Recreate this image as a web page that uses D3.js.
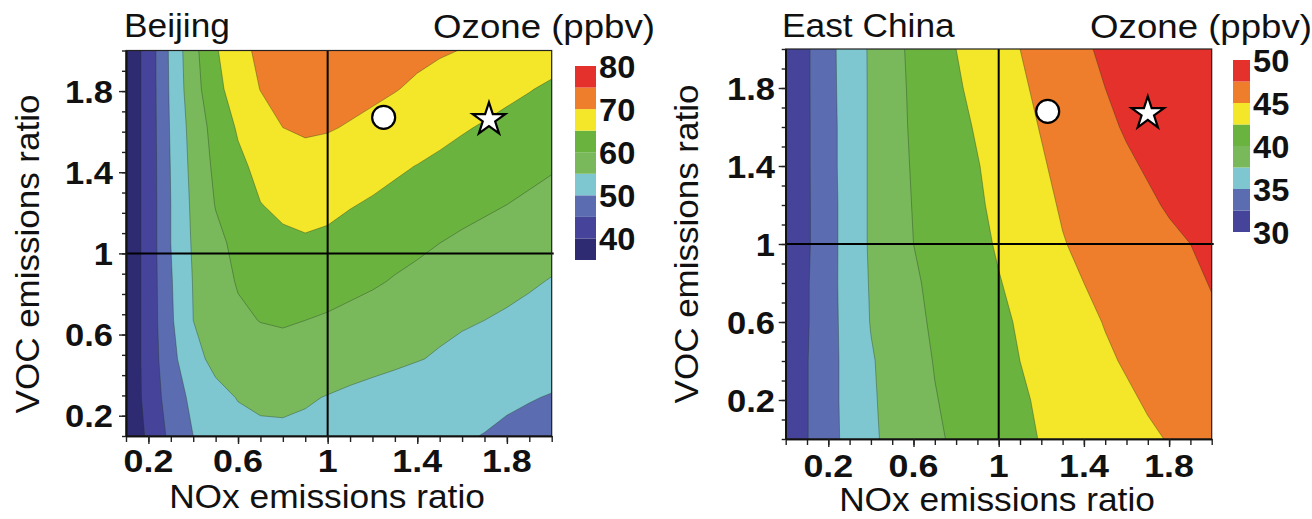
<!DOCTYPE html>
<html>
<head>
<meta charset="utf-8">
<script src="https://cdn.jsdelivr.net/npm/d3@7"></script>
<style>
body { margin: 0; background: #fff; }
text { font-family: "Liberation Sans", Arial, sans-serif; fill: #111; }
</style>
</head>
<body>
<svg id="chart" width="1312" height="519"></svg>
<script>
// ---- Beijing ----
var noxBJ = [0.1, 0.2, 0.3, 0.4, 0.5, 0.6, 0.7, 0.8, 0.9, 1.0, 1.1, 1.2, 1.3, 1.4, 1.5, 1.6, 1.7, 1.8, 1.9, 2.0];
var vocBJ = [0.1, 0.29, 0.48, 0.67, 0.86, 1.05, 1.24, 1.43, 1.62, 1.81, 2.0];
// one row per VOC value (bottom to top), one column per NOx value
var ozoneBJ = [
	[36, 40.8, 46.2, 50, 52.2, 53.4, 54, 54.1, 53.8, 53.3, 52.8, 52.3, 51.8, 51.3, 50.8, 50.3, 49.9, 49.3, 48.8, 48.3],
	[36, 41.8, 47.3, 51.2, 53.6, 55.2, 55.9, 56, 55.5, 54.8, 54.1, 53.5, 53, 52.5, 52, 51.5, 51, 50.6, 50.2, 49.8],
	[36, 42, 48.5, 53.5, 56.3, 57.7, 58.3, 58.4, 58.1, 57.6, 57, 56.4, 55.8, 55.2, 54.6, 54, 53.3, 52.7, 52.1, 51.5],
	[36, 42, 49.3, 55, 57.8, 59.3, 60.1, 60.4, 60, 59.4, 58.6, 57.8, 57.1, 56.5, 55.9, 55.4, 55, 54.5, 54, 53.5],
	[36, 42, 49.6, 55.2, 58.3, 60.3, 61.6, 62.3, 62.5, 62.2, 61.4, 60.6, 59.6, 58.8, 58, 57.3, 56.6, 56, 55.4, 54.8],
	[36, 42, 50, 55.6, 58.8, 61.2, 63, 64.2, 64.6, 64.3, 63.5, 62.7, 61.8, 60.9, 60, 59.1, 58.3, 57.6, 56.9, 56.3],
	[36, 42, 50, 56, 60.2, 63, 64.9, 65.8, 66.1, 65.8, 65.2, 64.6, 63.9, 63.2, 62.4, 61.6, 60.8, 60, 59.3, 58.6],
	[36, 42, 50.2, 56.5, 61, 64, 66.2, 67.4, 67.8, 67.6, 67, 66.3, 65.6, 64.9, 64.1, 63.3, 62.5, 61.8, 61.1, 60.4],
	[36, 42, 50.5, 57, 61.8, 65.5, 68.2, 70, 70.8, 70.4, 69.6, 68.8, 68, 67.2, 66.3, 65.4, 64.6, 63.8, 63, 62.2],
	[36, 42, 50.8, 58, 63.5, 67.5, 70.1, 71.5, 72.2, 72.3, 71.8, 71, 70.2, 69.3, 68.5, 67.7, 66.9, 66, 65.2, 64.3],
	[36, 42, 51, 58.5, 64.5, 68.5, 71, 72.5, 73, 73.2, 73, 72.5, 71.8, 71, 70.4, 69.9, 69.2, 68.5, 67.8, 67]
];
var levelsBJ = [35, 40, 45, 50, 55, 60, 65, 70, 75, 80];
var colorsBJ = ["#2f2b72", "#46449a", "#5b6db0", "#7fc7d0", "#79b95c", "#6bb33f", "#f4e72a", "#ef7e2c", "#e4312c"];
var cbarTicksBJ = [40, 50, 60, 70, 80];
var circleBJ = [1.25, 1.67];
var starBJ = [1.72, 1.67];

// ---- East China ----
var noxEC = [0, 0.1, 0.2, 0.3, 0.4, 0.5, 0.6, 0.7, 0.8, 0.9, 1.0, 1.1, 1.2, 1.3, 1.4, 1.5, 1.6, 1.7, 1.8, 1.9, 2.0];
var vocEC = [0, 0.2, 0.4, 0.6, 0.8, 1.0, 1.2, 1.4, 1.6, 1.8, 2.0];
var ozoneEC = [
	[30.6, 32.4, 34.2, 35.7, 37.1, 38.1, 38.9, 39.7, 40.3, 40.9, 41.5, 42, 42.6, 43, 43.4, 43.9, 44.3, 44.7, 45.1, 45.6, 46],
	[30.6, 32.4, 34.2, 35.8, 37.2, 38.2, 39, 39.9, 40.5, 41.1, 41.7, 42.2, 42.8, 43.2, 43.7, 44.2, 44.7, 45.2, 45.7, 46.1, 46.6],
	[30.6, 32.4, 34.2, 35.8, 37.3, 38.3, 39.2, 40.1, 40.7, 41.3, 41.9, 42.5, 43, 43.6, 44.1, 44.7, 45.2, 45.6, 46, 46.5, 46.9],
	[30.6, 32.3, 34.2, 35.9, 37.6, 38.5, 39.5, 40.3, 40.9, 41.5, 42.1, 42.7, 43.3, 43.9, 44.5, 45.1, 45.6, 46.1, 46.5, 46.9, 47.2],
	[30.6, 32.3, 34.2, 36, 37.7, 38.7, 39.7, 40.5, 41.1, 41.7, 42.4, 43, 43.7, 44.4, 45, 45.4, 45.9, 46.3, 46.7, 47.1, 47.6],
	[30.6, 32.2, 34.1, 36.1, 37.8, 38.9, 40, 40.7, 41.4, 42, 42.7, 43.4, 44.1, 44.9, 45.4, 45.8, 46.2, 46.7, 47.1, 47.5, 47.9],
	[30.6, 32.2, 34.1, 36.1, 37.8, 39, 40.1, 40.8, 41.5, 42.2, 43, 43.7, 44.5, 45.2, 45.7, 46.2, 46.7, 47.2, 47.7, 48, 48.4],
	[30.6, 32.2, 34.2, 36.1, 37.8, 39.1, 40.2, 40.9, 41.7, 42.4, 43.2, 44, 44.8, 45.5, 46, 46.6, 47.2, 47.7, 48.1, 48.5, 48.9],
	[30.6, 32.2, 34.2, 36.1, 37.8, 39.2, 40.3, 41.1, 41.9, 42.7, 43.5, 44.4, 45.1, 45.8, 46.4, 47.1, 47.7, 48.1, 48.5, 48.9, 49.3],
	[30.6, 32.2, 34.3, 36.1, 37.8, 39.2, 40.4, 41.3, 42.2, 43.1, 43.9, 44.7, 45.4, 46.1, 46.8, 47.5, 48, 48.5, 48.9, 49.2, 49.5],
	[30.6, 32.2, 34.3, 36.2, 37.8, 39.3, 40.5, 41.5, 42.5, 43.4, 44.2, 45, 45.7, 46.4, 47.2, 47.9, 48.4, 48.8, 49.2, 49.5, 49.7]
];
var levelsEC = [30, 32.5, 35, 37.5, 40, 42.5, 45, 47.5, 50];
var colorsEC = ["#46449a", "#5b6db0", "#7fc7d0", "#79b95c", "#6bb33f", "#f4e72a", "#ef7e2c", "#e4312c"];
var cbarTicksEC = [30, 35, 40, 45, 50];
var circleEC = [1.23, 1.68];
var starEC = [1.70, 1.68];

var axisTicks = [0.2, 0.6, 1, 1.4, 1.8];
var axisTickLabels = ["0.2", "0.6", "1", "1.4", "1.8"];

var svg = d3.select("#chart");

// text in the figure is wider than Liberation Sans, so stretch it sideways
var stretchText = function(g, str, x, y, o){
	return g.append("text")
		.attr("transform", "translate(" + x + "," + y + ")" + (o.rotate ? " rotate(" + o.rotate + ")" : "") + " scale(" + o.sx + ",1)")
		.attr("text-anchor", o.anchor || "start")
		.style("font-size", o.size + "px")
		.style("font-weight", o.bold ? "bold" : "normal")
		.text(str);
}

var drawPanel = function(p){
	var g = svg.append("g");
	var x = d3.scaleLinear().domain(p.xDomain).range([p.x0, p.x1]);
	var y = d3.scaleLinear().domain(p.yDomain).range([p.y0, p.y1]);

	var n = p.nox.length, m = p.voc.length;
	var values = [];
	p.ozone.forEach(function(row){ row.forEach(function(v){ values.push(v); }); });

	// grid coords of d3.contours -> data coords
	var gx = d3.scaleLinear().domain([0.5, n - 0.5]).range([p.nox[0], p.nox[n - 1]]);
	var gy = d3.scaleLinear().domain([0.5, m - 0.5]).range([p.voc[0], p.voc[m - 1]]);
	var proj = d3.geoTransform({ point: function(a, b){ this.stream.point(x(gx(a)), y(gy(b))); } });
	var path = d3.geoPath(proj);
	var bands = d3.contours().size([n, m]).thresholds(p.levels.slice(0, -1))(values);

	var clipId = "clip-" + p.id;
	g.append("clipPath").attr("id", clipId).append("rect")
		.attr("x", p.x0).attr("y", p.y1)
		.attr("width", p.x1 - p.x0).attr("height", p.y0 - p.y1);

	g.append("g").attr("clip-path", "url(#" + clipId + ")")
		.selectAll("path").data(bands).enter().append("path")
		.attr("d", path)
		.attr("fill", function(d, i){ return p.colors[i]; })
		.attr("stroke", function(d, i){ return i ? "rgba(30,50,30,0.45)" : "none"; })
		.attr("stroke-width", 0.8);

	// reference lines at ratio 1
	g.append("line").attr("x1", x(1)).attr("x2", x(1)).attr("y1", p.y1).attr("y2", p.y0)
		.attr("stroke", "#000").attr("stroke-width", 2);
	g.append("line").attr("x1", p.x0).attr("x2", p.x1 + 2).attr("y1", y(1)).attr("y2", y(1))
		.attr("stroke", "#000").attr("stroke-width", 2);

	// frame
	g.append("rect").attr("x", p.x0).attr("y", p.y1)
		.attr("width", p.x1 - p.x0).attr("height", p.y0 - p.y1)
		.attr("fill", "none").attr("stroke", "#222").attr("stroke-width", 1.2);

	// axes: minor ticks every 0.1, longer ticks at labels
	var minorX = d3.range(Math.round(p.xDomain[0] * 10), Math.round(p.xDomain[1] * 10) + 1).map(function(k){ return k / 10; });
	var minorY = d3.range(Math.round(p.yDomain[0] * 10), Math.round(p.yDomain[1] * 10) + 1).map(function(k){ return k / 10; });

	var ax = g.append("g").attr("transform", "translate(0," + p.y0 + ")")
		.call(d3.axisBottom(x).tickValues(minorX).tickSize(6).tickSizeOuter(0).tickFormat(""));
	ax.append("g").call(d3.axisBottom(x).tickValues(axisTicks).tickSize(8).tickSizeOuter(0).tickFormat(""));
	var ay = g.append("g").attr("transform", "translate(" + p.x0 + ",0)")
		.call(d3.axisLeft(y).tickValues(minorY).tickSize(4).tickSizeOuter(0).tickFormat(""));
	ay.append("g").call(d3.axisLeft(y).tickValues(axisTicks).tickSize(7).tickSizeOuter(0).tickFormat(""));
	g.selectAll(".domain").attr("stroke", "#111").attr("stroke-width", 1.6);
	g.selectAll(".tick line").attr("stroke", "#222").attr("stroke-width", 1.4);

	axisTicks.forEach(function(v, i){
		stretchText(g, axisTickLabels[i], x(v), p.xLabelY, { size: 32, bold: true, sx: 1.12, anchor: "middle" });
		stretchText(g, axisTickLabels[i], p.yLabelX, y(v) + 11.5, { size: 32, bold: true, sx: 1.08, anchor: "end" });
	});

	stretchText(g, "NOx emissions ratio", p.xTitleX, p.xTitleY, { size: 33, sx: 1.07, anchor: "middle" });
	stretchText(g, "VOC emissions ratio", p.yTitleX, p.yTitleY, { size: 33, sx: 1.06, anchor: "middle", rotate: -90 });
	stretchText(g, p.name, p.nameX, 37, { size: 33, sx: 1.07 });
	stretchText(g, "Ozone (ppbv)", p.unitX, 38, { size: 33, sx: 1.11, anchor: "end" });

	// markers
	g.append("circle").attr("cx", x(p.circle[0])).attr("cy", y(p.circle[1])).attr("r", 11.5)
		.attr("fill", "#fff").attr("stroke", "#000").attr("stroke-width", 2.2);
	g.append("path").attr("d", d3.symbol().type(d3.symbolStar).size(330)())
		.attr("transform", "translate(" + x(p.star[0]) + "," + (y(p.star[1]) + 2) + ")")
		.attr("fill", "#fff").attr("stroke", "#000").attr("stroke-width", 2.2).attr("stroke-linejoin", "miter");

	// color bar
	var cb = d3.scaleLinear().domain([p.levels[0], p.levels[p.levels.length - 1]]).range([p.cbBottom, p.cbTop]);
	g.selectAll(".cbar").data(p.colors).enter().append("rect")
		.attr("x", p.cbX).attr("width", p.cbW)
		.attr("y", function(d, i){ return cb(p.levels[i + 1]); })
		.attr("height", function(d, i){ return cb(p.levels[i]) - cb(p.levels[i + 1]); })
		.attr("fill", function(d){ return d; });
	p.cbTicks.forEach(function(v){
		stretchText(g, String(v), p.cbX + p.cbW + 3, cb(v) + 11.5, { size: 32, bold: true, sx: 1.02 });
	});
}

drawPanel({
	id: "bj", name: "Beijing",
	nox: noxBJ, voc: vocBJ, ozone: ozoneBJ, levels: levelsBJ, colors: colorsBJ, cbTicks: cbarTicksBJ,
	circle: circleBJ, star: starBJ,
	xDomain: [0.1, 2.0], yDomain: [0.1, 2.0],
	x0: 126, x1: 551.7, y0: 436, y1: 50.5,
	xLabelY: 472, yLabelX: 113,
	xTitleX: 327, xTitleY: 508, yTitleX: 39, yTitleY: 254,
	nameX: 124, unitX: 655,
	cbX: 575, cbW: 21, cbTop: 66, cbBottom: 260
});

drawPanel({
	id: "ec", name: "East China",
	nox: noxEC, voc: vocEC, ozone: ozoneEC, levels: levelsEC, colors: colorsEC, cbTicks: cbarTicksEC,
	circle: circleEC, star: starEC,
	xDomain: [0, 2.0], yDomain: [0, 2.0],
	x0: 785.7, x1: 1211.7, y0: 439, y1: 49,
	xLabelY: 477, yLabelX: 775,
	xTitleX: 997, xTitleY: 511, yTitleX: 698, yTitleY: 244,
	nameX: 782, unitX: 1312,
	cbX: 1233, cbW: 17, cbTop: 60, cbBottom: 232
});
</script>
</body>
</html>
